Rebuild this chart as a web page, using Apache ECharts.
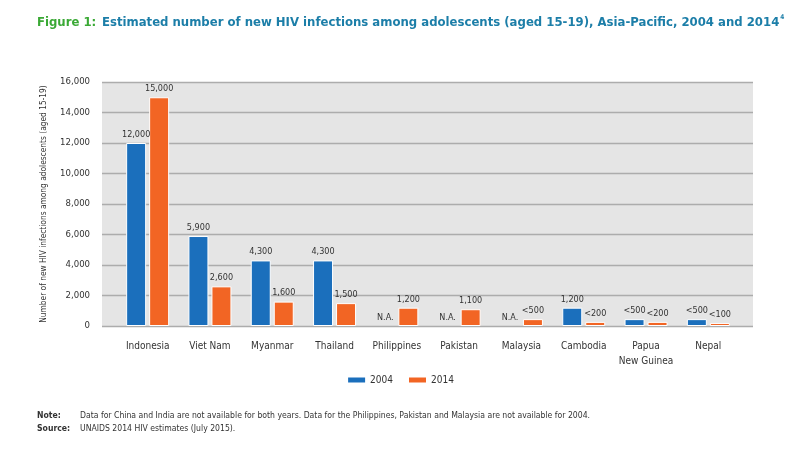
<!DOCTYPE html>
<html>
<head>
<meta charset="utf-8">
<script src="https://cdn.jsdelivr.net/npm/echarts@6/dist/echarts.min.js"></script>
<style>
html,body{margin:0;padding:0;background:#fff;}
#c{width:800px;height:455px;}
</style>
</head>
<body>
<div id="c"></div>
<script>
const categories = ['Indonesia','Viet Nam','Myanmar','Thailand','Philippines','Pakistan','Malaysia','Cambodia','Papua\nNew Guinea','Nepal'];
const values2004 = [12000, 5900, 4300, 4300, 0, 0, 0, 1200, 450, 450];
const values2014 = [15000, 2600, 1600, 1500, 1200, 1100, 450, 270, 270, 200];
const labels2004 = ['12,000','5,900','4,300','4,300','N.A.','N.A.','N.A.','1,200','<500','<500'];
const labels2014 = ['15,000','2,600','1,600','1,500','1,200','1,100','<500','<200','<200','<100'];
const yTicks = [0, 2000, 4000, 6000, 8000, 10000, 12000, 14000, 16000];

const FONT = "'DejaVu Sans Condensed','Liberation Sans Narrow','Arial Narrow',sans-serif";
const yMin = yTicks[0], yMax = yTicks[yTicks.length-1], yStep = yTicks[1]-yTicks[0];

function mk(vals, labels){
  return vals.map((v,i)=>({
    value: v,
    label: {formatter: labels[i]},
    itemStyle: v === 0 ? {borderWidth:0} : {}
  }));
}

const chart = echarts.init(document.getElementById('c'), null, {renderer:'canvas'});
chart.setOption({
  animation: false,
  textStyle: {fontFamily: FONT},
  title: {
    text: '{g|Figure 1:} {b|Estimated number of new HIV infections among adolescents (aged 15-19), Asia-Pacific, 2004 and 2014}{s|4}',
    left: 37, top: 14, padding: 0,
    textStyle: {
      rich: {
        g: {color:'#3aa935', fontSize:13, fontWeight:'bold', fontFamily:FONT},
        b: {color:'#1c7ea8', fontSize:13, fontWeight:'bold', fontFamily:FONT},
        s: {color:'#1c7ea8', fontSize:6.5, fontWeight:'bold', fontFamily:FONT, verticalAlign:'top', padding:[0,0,7,1]}
      }
    }
  },
  legend: {
    data: ['2004','2014'],
    left: 'center', top: 370,
    itemWidth: 19, itemHeight: 7, itemGap: 14,
    icon: 'rect',
    textStyle: {fontSize: 10, color:'#333', fontFamily: FONT, padding:[0,0,0,-1]}
  },
  grid: [
    {left:102, right:47, top:82, bottom:129, show:true, backgroundColor:'#e5e5e5', borderWidth:0},
    {left:116.5, right:60.5, top:82, bottom:129}
  ],
  xAxis: [
    {type:'category', gridIndex:0, data:[''], show:false},
    {type:'category', gridIndex:1, data:categories,
      axisLine:{show:false}, axisTick:{show:false},
      axisLabel:{color:'#333', fontSize:10, margin:13, fontFamily:FONT, lineHeight:15, interval:0}}
  ],
  yAxis: [
    {type:'value', gridIndex:0, min:yMin, max:yMax, interval:yStep,
      name:'Number of new HIV infections among adolescents (aged 15-19)',
      nameLocation:'middle', nameGap:54, nameRotate:90,
      nameTextStyle:{color:'#333', fontSize:8.3, fontFamily:FONT},
      axisLine:{show:false}, axisTick:{show:false},
      axisLabel:{color:'#333', fontSize:9.5, margin:12, fontFamily:FONT,
        formatter:v=>v.toLocaleString('en-US')},
      splitLine:{show:true, lineStyle:{color:'#acacac', width:1.3}}
    },
    {type:'value', gridIndex:1, min:yMin, max:yMax, interval:yStep, show:false, splitLine:{show:false}}
  ],
  series: [
    {name:'2004', type:'bar', xAxisIndex:1, yAxisIndex:1, data:mk(values2004, labels2004),
      barWidth:20, barGap:'15%',
      itemStyle:{color:'#1b6fbc', borderColor:'#ffffff', borderWidth:1},
      label:{show:true, position:'top', distance:4, color:'#333', fontSize:9, fontFamily:FONT}},
    {name:'2014', type:'bar', xAxisIndex:1, yAxisIndex:1, data:mk(values2014, labels2014),
      barWidth:20,
      itemStyle:{color:'#f26524', borderColor:'#ffffff', borderWidth:1},
      label:{show:true, position:'top', distance:4, color:'#333', fontSize:9, fontFamily:FONT}}
  ],
  graphic: [
    {type:'text', left:37, top:411, style:{text:'Note:', font:'bold 8.6px '+FONT, fill:'#333'}},
    {type:'text', left:80, top:411, style:{text:'Data for China and India are not available for both years. Data for the Philippines, Pakistan and Malaysia are not available for 2004.', font:'8.6px '+FONT, fill:'#333'}},
    {type:'text', left:37, top:424, style:{text:'Source:', font:'bold 8.6px '+FONT, fill:'#333'}},
    {type:'text', left:80, top:424, style:{text:'UNAIDS 2014 HIV estimates (July 2015).', font:'8.6px '+FONT, fill:'#333'}}
  ]
});
</script>
</body>
</html>
